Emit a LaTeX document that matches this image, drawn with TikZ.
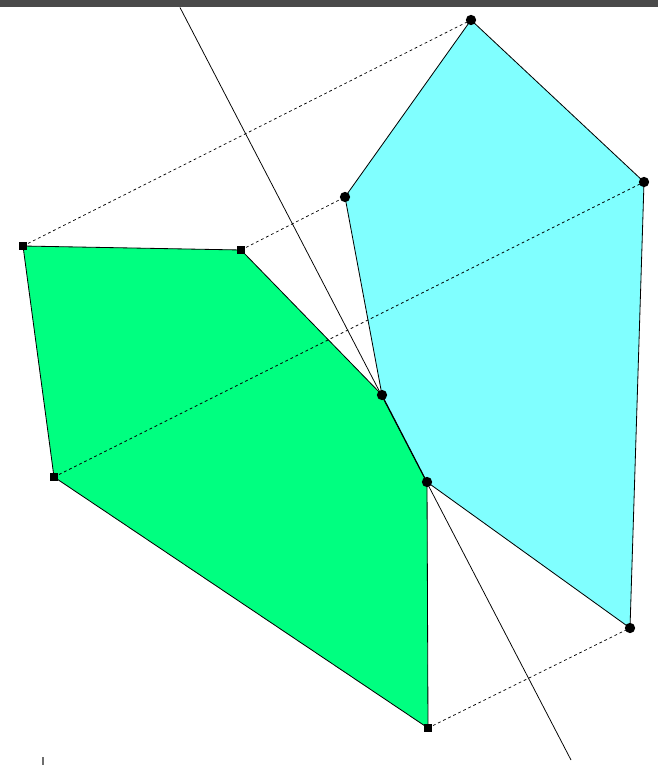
\documentclass[tikz,border=0pt]{standalone}
\definecolor{hullgreen}{RGB}{0, 255, 128}
\definecolor{hullcyan}{RGB}{128, 255, 255}
\definecolor{bargray}{RGB}{74, 74, 74}
\usetikzlibrary{calc}
\tikzset{
	sqpt/.style={rectangle, fill=black, inner sep=0pt, minimum size=7.5pt},
	dotpt/.style={circle, fill=black, inner sep=0pt, minimum size=8.8pt},
	edge/.style={line width=0.7pt, draw=black},
	bridge/.style={line width=0.6pt, draw=black, dash pattern=on 2.4pt off 2.4pt},
	split/.style={line width=0.65pt, draw=black},
}
\begin{document}
\begin{tikzpicture}[x=0.03cm, y=-0.03cm]
		\useasboundingbox (0,0) rectangle (658,765);
		\fill[bargray] (0,0) rectangle (658,7.5);
		\fill[bargray!80] (42.3,757) rectangle (43.7,765);
		% vertices
		\coordinate (g1) at (23,246);
		\coordinate (g2) at (241,250);
		\coordinate (g3) at (54,477);
		\coordinate (g4) at (428,728);
		\coordinate (m1) at (382,395);
		\coordinate (m2) at (427,482);
		\coordinate (c1) at (471,20);
		\coordinate (c2) at (644,182);
		\coordinate (c3) at (345,197);
		\coordinate (c4) at (630,628);
		\coordinate (s1) at (180,7.5);
		\coordinate (s2) at (571,760);
		% the two polygons
		\filldraw[edge, fill=hullgreen] (g1) -- (g2) -- (m1) -- (m2) -- (g4) -- (g3) -- cycle;
		\filldraw[edge, fill=hullcyan] (c1) -- (c2) -- (c4) -- (m2) -- (m1) -- (c3) -- cycle;
		% bridges
		\draw[bridge] (g1) -- (c1);
		\draw[bridge] (g2) -- (c3);
		\draw[bridge] (g3) -- (c2);
		\draw[bridge] (g4) -- (c4);
		% separating line
		\draw[split] (s1) -- (s2);
		% markers
		\foreach \p in {g1, g2, g3, g4}
			\node[sqpt] (n\p) at (\p) {};
		\foreach \p in {c1, c2, c3, c4, m1, m2}
			\node[dotpt] (n\p) at (\p) {};
	\end{tikzpicture}
\end{document}
